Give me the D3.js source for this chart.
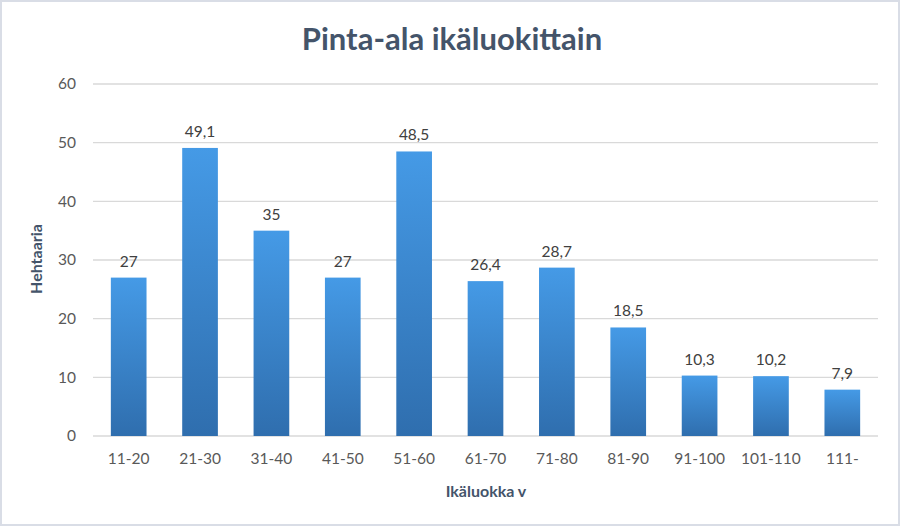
<!DOCTYPE html>
<html>
<head>
<meta charset="utf-8">
<script src="https://cdn.jsdelivr.net/npm/d3@7"></script>
<style>
  body { margin: 0; background: #fff; }
  text { font-family: Lato, "Noto Sans", sans-serif; }
</style>
</head>
<body>
<svg id="chart"></svg>
<script>
let categories = ["11-20", "21-30", "31-40", "41-50", "51-60", "61-70", "71-80", "81-90", "91-100", "101-110", "111-"];
let values = [27, 49.1, 35, 27, 48.5, 26.4, 28.7, 18.5, 10.3, 10.2, 7.9];
let yTicks = [0, 10, 20, 30, 40, 50, 60];

let width = 902;
let height = 527;
let plotLeft = 93, plotRight = 878, plotTop = 84, plotBottom = 436;

let svg = d3.select('#chart')
  .attr('width', width)
  .attr('height', height);

// outer frame
svg.append('rect')
  .attr('x', 1).attr('y', 1)
  .attr('width', width - 4).attr('height', height - 3)
  .attr('fill', '#fff')
  .attr('stroke', '#d9dde6')
  .attr('stroke-width', 2);

let grad = svg.append('defs').append('linearGradient')
  .attr('id', 'barGrad')
  .attr('x1', 0).attr('y1', 0).attr('x2', 0).attr('y2', 1);
grad.append('stop').attr('offset', '0%').attr('stop-color', '#459ae6');
grad.append('stop').attr('offset', '100%').attr('stop-color', '#2f6eae');

let xScale = d3.scaleBand()
  .domain(categories)
  .range([plotLeft, plotRight])
  .paddingInner(0.5)
  .paddingOuter(0.25);

let yScale = d3.scaleLinear()
  .domain([0, 60])
  .range([plotBottom, plotTop]);

// gridlines
svg.append('g')
  .selectAll('line')
  .data(yTicks)
  .enter()
  .append('line')
  .attr('x1', plotLeft).attr('x2', plotRight)
  .attr('y1', d => yScale(d)).attr('y2', d => yScale(d))
  .attr('stroke', '#d9d9d9')
  .attr('stroke-width', 1.3);

// y axis labels
let yAxis = d3.axisLeft(yScale).tickValues(yTicks).tickSize(0).tickPadding(17);
let yg = svg.append('g').attr('transform', 'translate(' + plotLeft + ',0)').call(yAxis);
yg.select('.domain').remove();
yg.selectAll('text').attr('font-size', 15.5).attr('fill', '#595959')
  .style('font-family', 'Lato, "Noto Sans", sans-serif');

// x axis labels
let xAxis = d3.axisBottom(xScale).tickSize(0).tickPadding(17);
let xg = svg.append('g').attr('transform', 'translate(0,' + plotBottom + ')').call(xAxis);
xg.select('.domain').remove();
xg.selectAll('text').attr('font-size', 15.5).attr('fill', '#595959')
  .style('font-family', 'Lato, "Noto Sans", sans-serif');

// bars
svg.append('g')
  .selectAll('rect')
  .data(values)
  .enter()
  .append('rect')
  .attr('x', (d, i) => xScale(categories[i]))
  .attr('y', d => yScale(d))
  .attr('width', xScale.bandwidth())
  .attr('height', d => plotBottom - yScale(d))
  .attr('fill', 'url(#barGrad)');

// data labels
svg.append('g')
  .selectAll('text')
  .data(values)
  .enter()
  .append('text')
  .attr('x', (d, i) => xScale(categories[i]) + xScale.bandwidth() / 2)
  .attr('y', d => yScale(d) - 11)
  .attr('text-anchor', 'middle')
  .attr('font-size', 15.5)
  .attr('fill', '#404040')
  .text(d => String(d).replace('.', ','));

// title
svg.append('text')
  .attr('x', 452).attr('y', 50)
  .attr('text-anchor', 'middle')
  .attr('font-size', 31)
  .attr('font-weight', 'bold')
  .attr('fill', '#44546a')
  .text('Pinta-ala ikäluokittain');

// axis titles
svg.append('text')
  .attr('transform', 'translate(42,259) rotate(-90)')
  .attr('text-anchor', 'middle')
  .attr('font-size', 16)
  .attr('font-weight', 'bold')
  .attr('fill', '#44546a')
  .text('Hehtaaria');

svg.append('text')
  .attr('x', 486).attr('y', 497)
  .attr('text-anchor', 'middle')
  .attr('font-size', 16)
  .attr('font-weight', 'bold')
  .attr('fill', '#44546a')
  .text('Ikäluokka v');
</script>
</body>
</html>
